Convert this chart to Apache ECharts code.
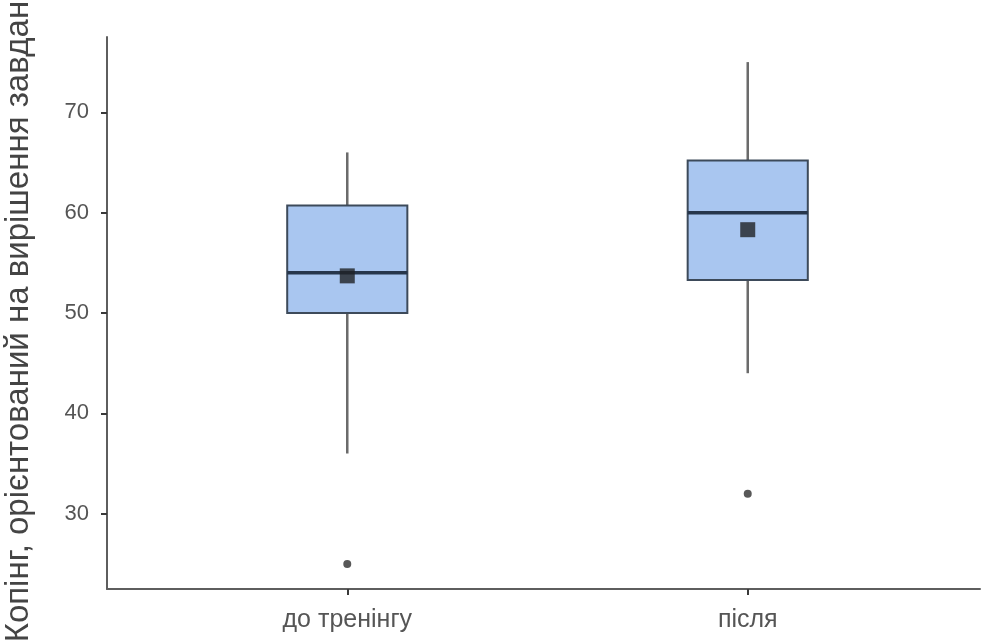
<!DOCTYPE html>
<html>
<head>
<meta charset="utf-8">
<script src="https://cdn.jsdelivr.net/npm/echarts@6/dist/echarts.min.js"></script>
<style>
html,body{margin:0;padding:0;background:#fff;}
#chart{width:982px;height:643px;}
</style>
</head>
<body>
<div id="chart"></div>
<script>
const categories = ['до тренінгу', 'після'];
const whiskerLow = [36, 44];
const q1 = [50, 53.3];
const median = [54, 60];
const q3 = [60.7, 65.2];
const whiskerHigh = [66, 75];
const means = [53.7, 58.3];
const outlierValues = [25, 32];
const yTicks = [30, 40, 50, 60, 70];
const yTitle = 'Копінг, орієнтований на вирішення завдань';

const boxData = categories.map((c, i) => [i + 1, whiskerLow[i], q1[i], median[i], q3[i], whiskerHigh[i]]);
const meanData = categories.map((c, i) => [i + 1, means[i]]);
const outlierData = categories.map((c, i) => [i + 1, outlierValues[i]]);

const chart = echarts.init(document.getElementById('chart'), null, {renderer: 'canvas'});
const font = 'Liberation Sans, Arial, sans-serif';

chart.setOption({
  animation: false,
  backgroundColor: '#fff',
  grid: {left: 107, right: 2, top: 37, bottom: 54, containLabel: false, outerBoundsMode: 'none'},
  xAxis: {
    type: 'value',
    min: 0.4,
    max: 2.58,
    splitLine: {show: false},
    axisLine: {show: true, lineStyle: {color: '#5e5e5e', width: 2}},
    axisTick: {show: true, customValues: [1, 2], length: 6, lineStyle: {color: '#3a3a3a', width: 2}},
    axisLabel: {
      customValues: [1, 2],
      formatter: v => categories[Math.round(v) - 1],
      color: '#555', fontSize: 25, fontFamily: font, margin: 19
    }
  },
  yAxis: {
    type: 'value',
    min: 22.5,
    max: 77.5,
    name: yTitle,
    nameLocation: 'middle',
    nameGap: 72,
    nameTextStyle: {color: '#444', fontSize: 33, fontFamily: font},
    splitLine: {show: false},
    axisLine: {show: true, lineStyle: {color: '#5e5e5e', width: 2}},
    axisTick: {show: true, customValues: yTicks, length: 6, lineStyle: {color: '#3a3a3a', width: 2}},
    axisLabel: {customValues: yTicks, color: '#555', fontSize: 22, fontFamily: font, margin: 18}
  },
  series: [
    {
      type: 'custom',
      data: boxData,
      encode: {x: 0, y: [1, 2, 3, 4, 5]},
      z: 2,
      renderItem: function (params, api) {
        const x = api.value(0);
        const lo = api.coord([x, api.value(1)]);
        const a = api.coord([x, api.value(2)]);
        const m = api.coord([x, api.value(3)]);
        const b = api.coord([x, api.value(4)]);
        const hi = api.coord([x, api.value(5)]);
        const half = api.size([0.3, 0])[0] / 2;
        const cx = a[0];
        return {
          type: 'group',
          children: [
            {type: 'line', shape: {x1: cx, y1: hi[1], x2: cx, y2: b[1]}, style: {stroke: '#6b6b6b', lineWidth: 2.5}},
            {type: 'line', shape: {x1: cx, y1: a[1], x2: cx, y2: lo[1]}, style: {stroke: '#6b6b6b', lineWidth: 2.5}},
            {type: 'rect', shape: {x: cx - half, y: b[1], width: half * 2, height: a[1] - b[1]},
             style: {fill: '#a9c6f0', stroke: '#3d4a5a', lineWidth: 2}},
            {type: 'line', shape: {x1: cx - half, y1: m[1], x2: cx + half, y2: m[1]}, style: {stroke: '#26364c', lineWidth: 3.5}}
          ]
        };
      }
    },
    {
      type: 'scatter',
      data: outlierData,
      symbol: 'circle',
      symbolSize: 8,
      itemStyle: {color: '#2e2e2e'},
      z: 3
    },
    {
      type: 'scatter',
      data: meanData,
      symbol: 'rect',
      symbolSize: 15,
      itemStyle: {color: '#1f2226'},
      z: 4
    }
  ]
});
</script>
</body>
</html>
